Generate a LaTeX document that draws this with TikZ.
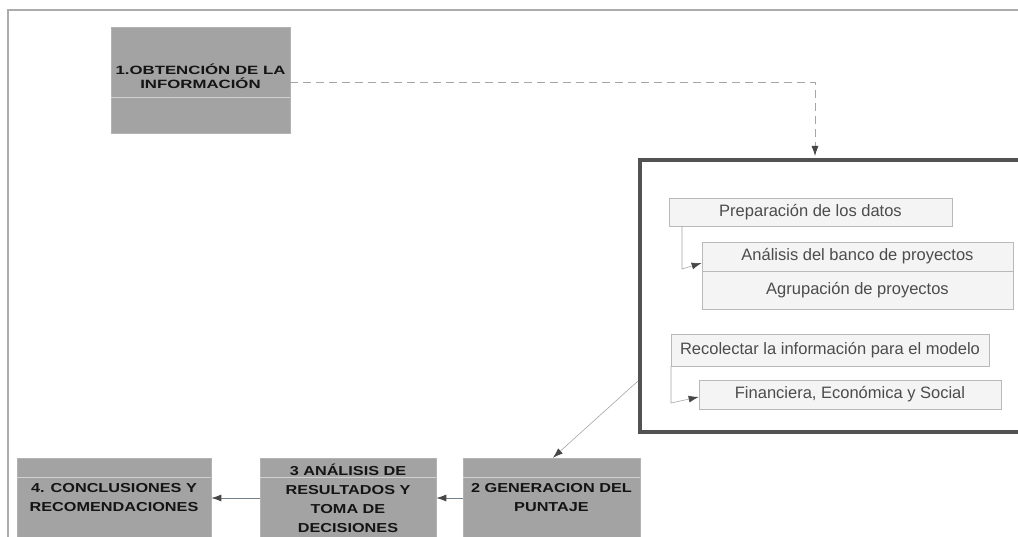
\documentclass[tikz,border=0pt]{standalone}
\usepackage{fontspec}
\setmainfont{Liberation Sans}
\newfontfamily\capsfont[FakeStretch=1.25]{Liberation Sans}
\newfontfamily\titlefont[FakeStretch=1.4]{Liberation Sans}
\usetikzlibrary{arrows.meta}

\begin{document}
\begin{tikzpicture}[x=1pt,y=-1pt,
  checkbox/.style={draw=gray!60, line width=0.6pt, fill=black!36,
    align=center, text=black!92, inner sep=0pt},
  capstext/.style={font=\capsfont\bfseries\fontsize{13}{19}\selectfont},
  subbox/.style={draw=gray!55, line width=0.7pt, fill=gray!9,
    text=black!70, inner sep=0pt,
    font=\fontsize{16.5}{19}\selectfont},
  tip/.style={-{Latex[length=10pt,width=7pt,color=black!72]}},
  flow/.style={tip, draw=black!55!cyan!40!gray, line width=0.9pt},
  thin/.style={tip, draw=gray!70, line width=0.6pt},
  stripe/.style={white, line width=1pt, opacity=.5}]

\useasboundingbox (0,0) rectangle (1018,537);
\clip (0,0) rectangle (1018,537);
\fill[white] (0,0) rectangle (1018,537);

% page frame
\draw[gray!65, line width=1.3pt] (8,537) -- (8,10) -- (1018,10);

% step 1
\node[checkbox, minimum width=179pt, minimum height=106pt] (obt) at (200.5,80) {};
\draw[stripe] (obt.west |- 0,98) -- (obt.east |- 0,98);
\node[align=center, text=black!92, inner sep=0pt,
      font=\titlefont\bfseries\fontsize{12}{14}\selectfont]
  (obttxt) at ([yshift=4pt]obt.center) {1.OBTENCIÓN DE LA\\INFORMACIÓN};

% detail panel
\node[draw=black!68, line width=4pt, minimum width=400pt, minimum height=272pt]
  (panel) at (840,296) {};

\node[subbox, minimum width=283pt, minimum height=28pt] (prep) at (810.5,212)
  {Preparación de los datos};
\node[subbox, minimum width=311pt, minimum height=29pt] (anal) at (857.5,256.5)
  {Análisis del banco de proyectos};
\node[subbox, minimum width=311pt, minimum height=38pt] (agru) at (857.5,290)
  {Agrupación de proyectos};
\node[subbox, minimum width=318pt, minimum height=32pt] (reco) at (830,350)
  {Recolectar la información para el modelo};
\node[subbox, minimum width=302pt, minimum height=29pt] (fina) at (850,394.5)
  {Financiera, Económica y Social};

\coordinate (k1) at (682,269);
\coordinate (k2) at (671,403);
\draw[thin] (prep.south -| k1) -- (k1) -- ([yshift=-6.5pt]anal.west);
\draw[thin] (reco.south -| k2) -- (k2) -- ([yshift=-2.5pt]fina.west);

% bottom row: boxes first, then the light seam, then the texts on top
\node[checkbox, minimum width=194pt, minimum height=80pt] (conc) at (114,498) {};
\node[checkbox, minimum width=176pt, minimum height=80pt] (anres) at (348,498) {};
\node[checkbox, minimum width=177pt, minimum height=80pt] (gen) at (551.5,498) {};
\foreach \b in {conc,anres,gen}
  \draw[stripe] (\b.west |- 0,477) -- (\b.east |- 0,477);
\node[capstext, align=center, text=black!92, inner sep=0pt] (conctxt) at (conc.center)
  {4. CONCLUSIONES Y\\RECOMENDACIONES};
\node[capstext, align=center, text=black!92, inner sep=0pt] (anrestxt) at (anres.center)
  {3 ANÁLISIS DE\\RESULTADOS Y\\TOMA DE\\DECISIONES};
\node[capstext, align=center, text=black!92, inner sep=0pt] (gentxt) at (gen.center)
  {2 GENERACION DEL\\PUNTAJE};

% connectors
\coordinate (bend) at (815,82);
\draw[tip, draw=gray!70, line width=0.8pt, dash pattern=on 8pt off 5pt, shorten >=2pt]
  ([yshift=-2pt]obt.east) -- (bend) -- (bend |- panel.north);
\draw[thin] ([yshift=-85pt]panel.west) -- ([xshift=1.5pt]gen.north);
\draw[flow] (gen.west) -- (anres.east);
\draw[flow] (anres.west) -- (conc.east);

\end{tikzpicture}
\end{document}
